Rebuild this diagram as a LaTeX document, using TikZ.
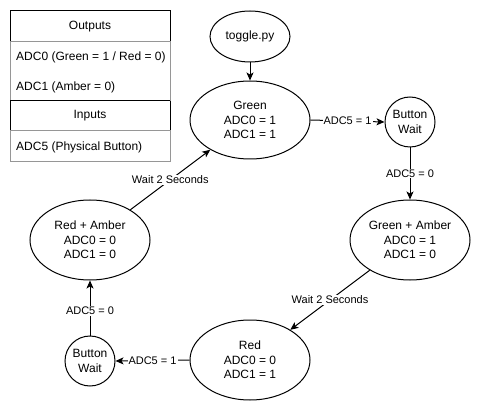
\documentclass[tikz,border=0pt]{standalone}
\usepackage{fontspec}
\setmainfont{Liberation Sans}
\usetikzlibrary{shapes.geometric,arrows.meta}
\definecolor{rowgray}{RGB}{150,150,150}
\tikzset{
  state/.style={draw, ellipse, line width=1pt, inner sep=0pt, align=center,
    font=\fontsize{12}{14.5}\selectfont},
  waitc/.style={draw, circle, line width=1pt, inner sep=0pt, minimum size=50pt, align=center,
    font=\fontsize{12}{14.5}\selectfont},
  conn/.style={line width=1pt, -{Stealth[length=8pt,width=7pt,inset=2pt]}},
  elabel/.style={fill=white, inner sep=1pt, font=\fontsize{11}{12}\selectfont},
  rowtxt/.style={anchor=west, inner sep=0pt, font=\fontsize{12}{14}\selectfont},
}
\begin{document}
\begin{tikzpicture}[x=1pt,y=-1pt]
\useasboundingbox (0,0) rectangle (481,411);
% table
\draw[line width=1pt] (10,11) rectangle (170,42);
\draw[line width=1pt] (10,101) rectangle (170,131);
\draw[line width=1pt, rowgray] (10,42) rectangle (170,101);
\draw[line width=1pt, rowgray] (10,131) rectangle (170,162);
\draw[line width=1pt] (10,101) -- (170,101);
\node[font=\fontsize{12}{14}\selectfont] (outh) at (90,26.5) {Outputs};
\node[font=\fontsize{12}{14}\selectfont] (inh) at (90,116) {Inputs};
\node[rowtxt] (r0) at (16,57) {ADC0 (Green = 1 / Red = 0)};
\node[rowtxt] (r1) at (16,87) {ADC1 (Amber = 0)};
\node[rowtxt] (r5) at (16,147) {ADC5 (Physical Button)};
% states
\node[state, minimum width=80pt, minimum height=51pt] (toggle) at (250,36.5) {toggle.py};
\node[state, minimum width=120pt, minimum height=78pt] (green) at (250,120) {Green\\ADC0 = 1\\ADC1 = 1};
\node[waitc] (bw1) at (410,122) {Button\\Wait};
\node[state, minimum width=120pt, minimum height=80pt] (ga) at (410,240) {Green + Amber\\ADC0 = 1\\ADC1 = 0};
\node[state, minimum width=120pt, minimum height=80pt] (red) at (250,360) {Red\\ADC0 = 0\\ADC1 = 1};
\node[waitc] (bw2) at (90,361) {Button\\Wait};
\node[state, minimum width=120pt, minimum height=80pt] (ra) at (90,240) {Red + Amber\\ADC0 = 0\\ADC1 = 0};
% connectors
\draw[conn] (toggle) -- (green);
\draw[conn] (green.east) -- node[elabel] {ADC5 = 1} (bw1.west);
\draw[conn] (bw1.south) -- node[elabel] {ADC5 = 0} (ga.north);
\draw[conn] (ga) -- node[elabel] {Wait 2 Seconds} (red);
\draw[conn] (red.west) -- node[elabel] {ADC5 = 1} (bw2.east);
\draw[conn] (bw2.north) -- node[elabel, pos=0.45] {ADC5 = 0} (ra.south);
\draw[conn] (ra) -- node[elabel] {Wait 2 Seconds} (green);
\end{tikzpicture}
\end{document}
